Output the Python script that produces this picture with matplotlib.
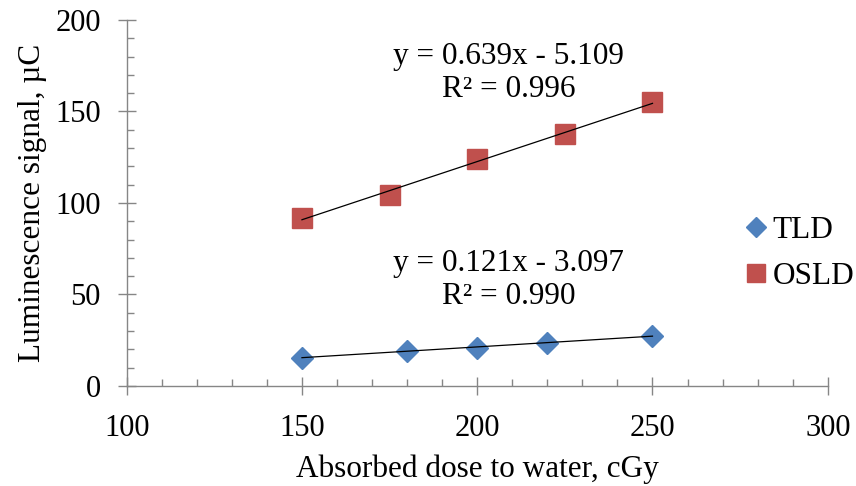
"""Luminescence signal vs absorbed dose for TLD and OSLD, with linear trendlines."""
import numpy as np
import matplotlib
matplotlib.use('Agg')
import matplotlib.pyplot as plt
from matplotlib.ticker import MultipleLocator

plt.rcParams['font.family'] = ['Liberation Serif', 'DejaVu Serif']

tld_dose = np.array([150, 180, 200, 220, 250])
tld_signal = np.array([15.5, 19.3, 20.8, 23.4, 27.5])
osld_dose = np.array([150, 175, 200, 225, 250])
osld_signal = np.array([92.0, 104.5, 124.0, 137.5, 155.0])

tld_eq = 'y = 0.121x - 3.097\nR² = 0.990'
osld_eq = 'y = 0.639x - 5.109\nR² = 0.996'

BLUE = '#4F81BD'
RED = '#C0504D'
GREY = '#868686'

fig = plt.figure(figsize=(8.56, 4.86), dpi=100)
ax = fig.add_axes([0.148, 0.206, 0.819, 0.753])

ax.plot(tld_dose, tld_signal, 'D', color=BLUE, markersize=11, label='TLD', zorder=3)
ax.plot(osld_dose, osld_signal, 's', color=RED, markersize=14.5, label='OSLD', zorder=3)

# linear trendlines over the measured range
for d, s in [(tld_dose, tld_signal), (osld_dose, osld_signal)]:
    k, b = np.polyfit(d, s, 1)
    xs = np.array([d.min(), d.max()])
    ax.plot(xs, k * xs + b, color='black', lw=0.9, zorder=4)

ax.text(209, 171, osld_eq, ha='center', va='center', multialignment='center',
        fontsize=22.5, linespacing=1.2)
ax.text(209, 58, tld_eq, ha='center', va='center', multialignment='center',
        fontsize=22.5, linespacing=1.2)

ax.set_xlim(100, 300)
ax.set_ylim(0, 200)
ax.xaxis.set_major_locator(MultipleLocator(50))
ax.xaxis.set_minor_locator(MultipleLocator(10))
ax.yaxis.set_major_locator(MultipleLocator(50))
ax.yaxis.set_minor_locator(MultipleLocator(10))

for side in ['top', 'right']:
    ax.spines[side].set_visible(False)
for side in ['left', 'bottom']:
    ax.spines[side].set_color(GREY)
    ax.spines[side].set_linewidth(1.0)

ax.tick_params(which='major', direction='inout', length=13, width=1.0,
               color=GREY, labelsize=22)
ax.tick_params(axis='x', which='major', pad=14)
ax.tick_params(axis='y', which='major', pad=12)
ax.tick_params(which='minor', direction='in', length=5, width=1.0, color=GREY)

ax.set_xlabel('Absorbed dose to water, cGy', fontsize=22.5, labelpad=8)
ax.set_ylabel('Luminescence signal, µC', fontsize=22.5, labelpad=6)

ax.legend(loc='center left', bbox_to_anchor=(0.870, 0.478), frameon=False,
          fontsize=22.5, handletextpad=0.2, labelspacing=0.55, borderpad=0,
          borderaxespad=0, handlelength=0.7, markerscale=0.9,
          bbox_transform=fig.transFigure)

fig.savefig('out.png', dpi=100)
